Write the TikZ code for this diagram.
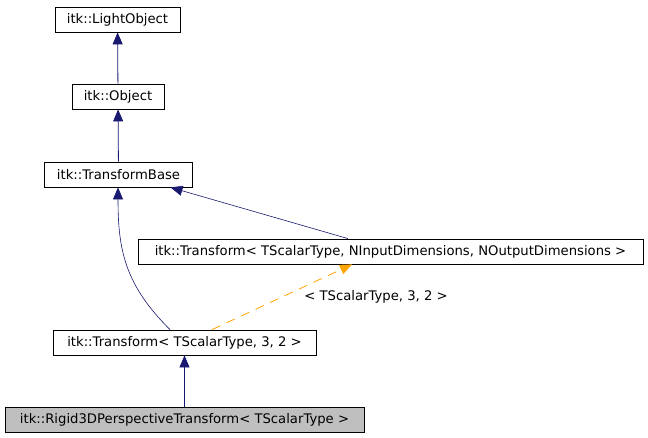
\documentclass[tikz,border=0pt]{standalone}
\usepackage{fontspec}
\setmainfont{DejaVu Sans}
\usetikzlibrary{arrows.meta}
\definecolor{edgeblue}{RGB}{25,25,112}
\definecolor{edgeorange}{RGB}{255,165,0}
\definecolor{boxgrey}{RGB}{191,191,191}
\begin{document}
\begin{tikzpicture}[x=1pt,y=-1pt,
  cls/.style={draw=black,fill=white,line width=0.8pt,inner sep=0pt,font=\fontsize{13.2}{15}\selectfont,minimum height=25pt,anchor=center},
  inh/.style={draw=edgeblue,line width=0.8pt,-{Triangle[length=12pt,width=10pt]}},
  tmpl/.style={draw=edgeorange,line width=0.8pt,dash pattern=on 9pt off 7pt,-{Triangle[length=12pt,width=10pt,fill=edgeorange]}},
  lbl/.style={font=\fontsize{13.2}{15}\selectfont,inner sep=0pt}]
\useasboundingbox (0,0) rectangle (648,437);
\node[cls,minimum width=125pt] (lo) at (117.5,19.5) {itk::LightObject};
\node[cls,minimum width=92pt] (ob) at (118,96.5) {itk::Object};
\node[cls,minimum width=148pt] (tb) at (118.5,174.5) {itk::TransformBase};
\node[cls,minimum width=505pt] (tn) at (390.5,251.5) {itk::Transform< TScalarType, NInputDimensions, NOutputDimensions >};
\node[cls,minimum width=263pt] (t32) at (184.5,342.5) {itk::Transform< TScalarType, 3, 2 >};
\node[cls,fill=boxgrey,minimum width=359pt] (rg) at (184.5,419.5) {itk::Rigid3DPerspectiveTransform< TScalarType >};
\draw[inh] (ob) -- (lo);
\draw[inh] (tb) -- (ob);
\draw[inh] (rg) -- (t32);
\draw[inh,line width=0.6pt] ([xshift=-14.5pt]t32.north) .. controls (125,285) and (118,250) .. ([xshift=-0.5pt]tb.south);
\draw[inh,line width=0.6pt] ([xshift=-42.5pt]tn.north) -- ([xshift=52pt]tb.south);
\draw[tmpl] ([xshift=27.5pt]t32.north) -- ([xshift=-38.5pt]tn.south);
\node[lbl] (lab) at (376,297) {< TScalarType, 3, 2 >};
\end{tikzpicture}
\end{document}
